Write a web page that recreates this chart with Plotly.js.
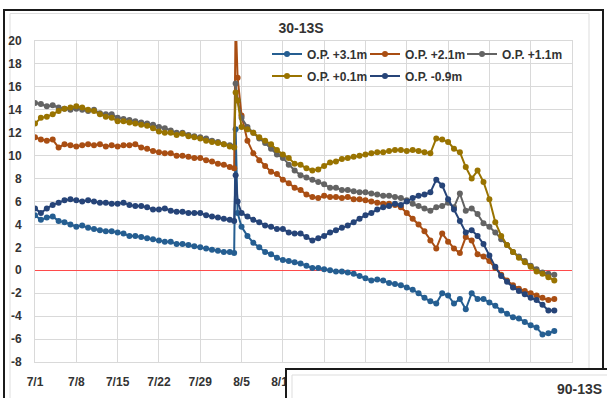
<!DOCTYPE html>
<html><head><meta charset="utf-8">
<script src="https://cdn.plot.ly/plotly-3.0.1.min.js"></script>
<style>html,body{margin:0;padding:0;background:#fff}#chart{width:607px;height:398px}</style>
</head><body><div id="chart"></div>
<script>
// ---- data ----
const dates = [
 '2023-07-01','2023-07-02','2023-07-03','2023-07-04','2023-07-05','2023-07-06','2023-07-07','2023-07-08','2023-07-09','2023-07-10',
 '2023-07-11','2023-07-12','2023-07-13','2023-07-14','2023-07-15','2023-07-16','2023-07-17','2023-07-18','2023-07-19','2023-07-20',
 '2023-07-21','2023-07-22','2023-07-23','2023-07-24','2023-07-25','2023-07-26','2023-07-27','2023-07-28','2023-07-29','2023-07-30',
 '2023-07-31','2023-08-01','2023-08-02','2023-08-03',
 '2023-08-03 18:00','2023-08-04 00:00','2023-08-04 08:00',
 '2023-08-05','2023-08-06','2023-08-07','2023-08-08','2023-08-09','2023-08-10','2023-08-11','2023-08-12','2023-08-13','2023-08-14',
 '2023-08-15','2023-08-16','2023-08-17','2023-08-18','2023-08-19','2023-08-20','2023-08-21','2023-08-22','2023-08-23','2023-08-24',
 '2023-08-25','2023-08-26','2023-08-27','2023-08-28','2023-08-29','2023-08-30','2023-08-31',
 '2023-09-01','2023-09-02','2023-09-03','2023-09-04','2023-09-05','2023-09-06','2023-09-07','2023-09-08','2023-09-09','2023-09-10',
 '2023-09-11','2023-09-12','2023-09-13','2023-09-14','2023-09-15','2023-09-16','2023-09-17','2023-09-18','2023-09-19','2023-09-20',
 '2023-09-21','2023-09-22','2023-09-23','2023-09-24','2023-09-25','2023-09-26','2023-09-27'
];
const seriesNames = ['O.P. +3.1m','O.P. +2.1m','O.P. +1.1m','O.P. +0.1m','O.P. -0.9m'];
const opPlus31 = [
 4.8,4.4,4.6,4.7,4.3,4.2,4.0,3.8,3.9,3.7,3.6,3.5,3.4,3.4,3.3,3.2,3.0,3.0,2.9,2.8,2.7,2.6,2.5,2.5,2.3,2.3,2.2,2.1,2.0,1.9,1.8,1.7,1.6,1.6,
 1.5,12.3,5.0,
 3.8,3.0,2.4,2.0,1.6,1.4,1.1,0.9,0.8,0.7,0.6,0.4,0.2,0.2,0.1,0.0,-0.1,-0.1,-0.2,-0.3,
 -0.5,-0.7,-0.9,-0.8,-0.9,-1.1,-1.2,-1.3,-1.5,-1.7,-2.0,-2.4,-2.7,-2.9,-2.0,-2.2,-2.9,-2.5,-3.4,-2.0,
 -2.5,-2.5,-2.8,-3.1,-3.5,-3.8,-4.1,-4.2,-4.5,-4.8,-5.0,-5.6,-5.5,-5.3
];
const opPlus21 = [
 11.6,11.4,11.3,11.4,10.7,11.0,10.9,10.8,10.9,11.0,10.9,11.0,10.8,10.9,10.8,10.9,10.9,11.0,10.7,10.6,10.4,10.3,10.2,10.2,10.0,10.0,9.9,9.8,9.8,9.6,9.5,9.3,9.2,9.0,
 8.9,22.0,16.8,
 13.5,11.3,10.2,9.6,9.1,8.6,8.4,7.9,7.6,7.2,7.0,6.6,6.4,6.3,6.5,6.4,6.4,6.3,6.4,6.2,
 6.2,6.1,6.0,5.9,5.8,5.8,5.7,5.5,5.0,4.5,4.0,3.4,2.6,1.9,3.2,2.5,1.9,1.5,2.9,2.6,
 1.4,1.2,0.8,0.2,-0.4,-0.9,-1.3,-1.6,-1.8,-2.0,-2.2,-2.4,-2.6,-2.5
];
const opPlus11 = [
 14.6,14.5,14.3,14.4,14.2,14.1,14.0,14.1,14.0,13.9,14.0,13.7,13.6,13.6,13.3,13.2,13.1,13.0,12.9,12.8,12.7,12.5,12.4,12.2,12.0,12.0,11.8,11.7,11.6,11.5,11.3,11.2,11.0,10.9,
 10.8,16.3,14.8,
 13.3,12.5,12.0,11.5,11.1,10.6,10.1,9.8,9.2,8.7,8.3,8.1,7.9,7.7,7.5,7.2,7.2,7.0,7.0,6.9,
 6.8,6.8,6.7,6.6,6.5,6.5,6.4,6.3,6.1,5.8,5.6,5.4,5.2,5.5,5.6,5.9,5.5,6.7,5.2,5.4,
 4.9,4.1,3.8,3.3,2.7,2.2,1.6,1.2,0.8,0.4,0.1,-0.2,-0.3,-0.4
];
const opPlus01 = [
 12.8,13.3,13.4,13.6,13.9,14.1,14.2,14.3,14.2,14.0,13.9,13.6,13.4,13.3,13.0,13.0,12.9,12.8,12.7,12.6,12.4,12.1,12.0,12.0,11.8,11.9,11.7,11.6,11.5,11.3,11.2,11.1,11.0,10.8,
 10.7,15.5,14.8,
 12.5,12.3,12.0,11.6,11.3,11.0,10.5,10.1,9.8,9.3,9.2,8.9,8.7,8.8,9.1,9.4,9.5,9.7,9.8,9.9,
 10.0,10.1,10.2,10.3,10.3,10.4,10.5,10.5,10.4,10.5,10.4,10.3,10.2,11.5,11.4,11.2,10.6,10.3,9.0,8.0,
 8.7,7.7,6.2,4.2,3.0,2.2,1.6,1.1,0.7,0.3,-0.1,-0.3,-0.6,-0.9
];
const opMinus09 = [
 5.4,5.0,5.4,5.7,5.9,6.1,6.2,6.1,6.0,6.1,6.0,5.9,5.9,5.8,5.8,5.9,5.7,5.6,5.6,5.5,5.3,5.3,5.4,5.2,5.1,5.1,5.0,5.0,5.0,4.8,4.7,4.6,4.5,4.4,
 4.3,8.3,6.0,
 5.0,4.7,4.4,4.2,3.9,3.8,3.6,3.6,3.3,3.2,3.2,2.9,2.6,2.8,3.0,3.3,3.5,3.7,3.9,4.2,
 4.5,4.8,5.0,5.3,5.5,5.6,5.8,5.7,6.0,6.3,6.5,6.6,6.8,7.9,7.4,6.2,5.3,4.3,3.3,3.5,
 3.0,2.3,1.3,0.3,-0.5,-1.0,-1.5,-1.8,-2.1,-2.4,-2.6,-3.0,-3.5,-3.5
];
const yTicks = [-8,-6,-4,-2,0,2,4,6,8,10,12,14,16,18,20];
const xTickDates = ['2023-07-01','2023-07-08','2023-07-15','2023-07-22','2023-07-29','2023-08-05','2023-08-12',
                    '2023-08-19','2023-08-26','2023-09-02','2023-09-09','2023-09-16','2023-09-23','2023-09-30'];
// labels from 8/19 on are hidden behind the overlapping second chart in the reference
const xTickLabels = ['7/1','7/8','7/15','7/22','7/29','8/5','8/12','','','','','','',''];
const chartTitle = '30-13S';
const otherChartTitle = '90-13S';

// ---- styling ----
const colors = ['#255E91','#A94E13','#636363','#997300','#264478'];
const seriesValues = [opPlus31, opPlus21, opPlus11, opPlus01, opMinus09];
const FONT = 'Liberation Sans, Arial, sans-serif';

// pixel helpers for plot area (l=35, r=572, t=41, b=362)
const PL = 35, PR = 572, PT = 41, PB = 362;
const px = x => (x - PL) / (PR - PL);
const py = y => (PB - y) / (PB - PT);

// one legend box per entry, laid out as in the reference (3 + 2 grid)
const legendIds = ['legend','legend2','legend3','legend4','legend5'];
const legendPos = [[267,54],[365,54],[462,54],[267,76],[365,76]];

const traces = seriesValues.map((vals, i) => ({
  type: 'scatter', mode: 'lines+markers',
  x: dates, y: vals, name: seriesNames[i],
  legend: legendIds[i],
  line: {color: colors[i], width: 2},
  marker: {color: colors[i], size: 6, symbol: 'circle'},
  cliponaxis: true
}));

const legendCommon = {
  orientation: 'h', xanchor: 'left', yanchor: 'middle',
  bgcolor: 'rgba(0,0,0,0)', borderwidth: 0, itemwidth: 30,
  font: {family: FONT, size: 12, color: '#333333', weight: 'bold'}
};

const layout = {
  width: 607, height: 398,
  margin: {l: PL, r: 607 - PR, t: PT, b: 398 - PB},
  paper_bgcolor: '#ffffff', plot_bgcolor: '#ffffff',
  showlegend: true,
  title: {text: chartTitle, x: 301/607, xanchor: 'center', xref: 'container',
          y: 1 - 28/398, yanchor: 'middle', yref: 'container',
          font: {family: FONT, size: 14, color: '#333333', weight: 'bold'}},
  xaxis: {
    type: 'date', range: ['2023-07-01', '2023-09-30'],
    tickmode: 'array', tickvals: xTickDates, ticktext: xTickLabels,
    showgrid: true, gridcolor: '#D9D9D9', gridwidth: 1,
    showline: true, linecolor: '#D9D9D9', linewidth: 1, mirror: true,
    zeroline: false, ticks: '', ticklabelstandoff: 9,
    tickfont: {family: FONT, size: 12, color: '#333333', weight: 'bold'}
  },
  yaxis: {
    range: [-8, 20], tickvals: yTicks, ticktext: yTicks.map(String),
    showgrid: true, gridcolor: '#D9D9D9', gridwidth: 1,
    showline: true, linecolor: '#D9D9D9', linewidth: 1, mirror: true,
    zeroline: true, zerolinecolor: '#FF4B4B', zerolinewidth: 1.5,
    ticks: '', ticklabelstandoff: 10,
    tickfont: {family: FONT, size: 12, color: '#333333', weight: 'bold'}
  },
  shapes: [
    // outer window frame of the first chart
    {type: 'rect', xref: 'paper', yref: 'paper', x0: px(4), x1: px(603), y0: py(10), y1: py(430),
     line: {color: '#1a1a1a', width: 2}, fillcolor: 'rgba(0,0,0,0)', layer: 'below'},
    {type: 'rect', xref: 'paper', yref: 'paper', x0: px(10), x1: px(589), y0: py(13.5), y1: py(430),
     line: {color: '#DDDDDD', width: 1}, fillcolor: 'rgba(0,0,0,0)', layer: 'below'},
    // overlapping second chart box
    {type: 'rect', xref: 'paper', yref: 'paper', x0: px(286), x1: px(640), y0: py(369), y1: py(440),
     line: {color: '#1a1a1a', width: 2}, fillcolor: '#ffffff', layer: 'above'},
    {type: 'rect', xref: 'paper', yref: 'paper', x0: px(292), x1: px(640), y0: py(375), y1: py(440),
     line: {color: '#DDDDDD', width: 1}, fillcolor: 'rgba(0,0,0,0)', layer: 'above'}
  ],
  annotations: [
    {text: otherChartTitle, xref: 'paper', yref: 'paper', x: px(555), y: py(389),
     xanchor: 'left', yanchor: 'middle', showarrow: false,
     font: {family: FONT, size: 14, color: '#333333', weight: 'bold'}}
  ]
};
legendIds.forEach((id, i) => {
  layout[id] = Object.assign({}, legendCommon, {x: px(legendPos[i][0]), y: py(legendPos[i][1])});
});

Plotly.newPlot('chart', traces, layout, {staticPlot: true, displayModeBar: false});
</script>
</body></html>
